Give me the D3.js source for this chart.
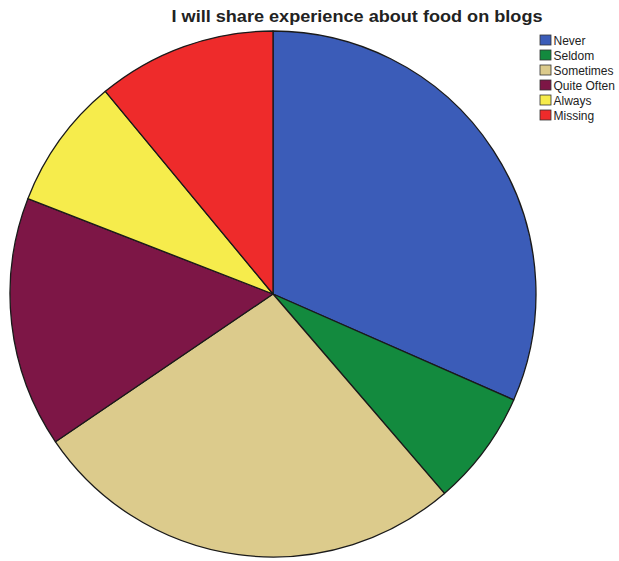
<!DOCTYPE html>
<html><head><meta charset="utf-8">
<script src="https://cdn.jsdelivr.net/npm/d3@7"></script>
<style>body{margin:0;background:#fff}svg{display:block}</style>
</head><body>
<svg id="c" width="619" height="561"></svg>
<script>
const categories = ["Never","Seldom","Sometimes","Quite Often","Always","Missing"];
const values = [31.6, 7.1, 26.8, 15.4, 8.1, 11.0];
const colors = ["#3b5cb8","#138a3e","#dccb8c","#7d1646","#f6ec4c","#ee2b2b"];
const title = "I will share experience about food on blogs";

const svg = d3.select("#c");
const cx = 273, cy = 294, r = 263;
const pie = d3.pie().sort(null).value(d => d.v);
const arc = d3.arc().innerRadius(0).outerRadius(r);
const data = categories.map((c,i)=>({c, v: values[i], col: colors[i]}));
svg.append("g").attr("transform",`translate(${cx},${cy})`)
  .selectAll("path").data(pie(data)).join("path")
  .attr("d", arc).attr("fill", d=>d.data.col)
  .attr("stroke","#1a1a1a").attr("stroke-width",1.3).attr("stroke-linejoin","round");

const t = svg.append("text").attr("x",357).attr("y",22).attr("text-anchor","middle")
  .attr("font-family","Liberation Sans, Arial, sans-serif").attr("font-weight","bold")
  .attr("font-size",17).attr("fill","#222").text(title);
t.attr("textLength", 371).attr("lengthAdjust","spacingAndGlyphs");

const y = d3.scalePoint().domain(categories).range([40,115]);
const lg = svg.append("g").selectAll("g").data(data).join("g")
  .attr("transform", d=>`translate(540,${y(d.c)})`);
lg.append("rect").attr("x",0).attr("y",-5).attr("width",11).attr("height",10)
  .attr("fill",d=>d.col).attr("stroke","#333").attr("stroke-width",0.8);
lg.append("text").attr("x",13.5).attr("y",4.5).attr("font-family","Liberation Sans, Arial, sans-serif")
  .attr("font-size",12).attr("fill","#222").text(d=>d.c);
</script>
</body></html>
